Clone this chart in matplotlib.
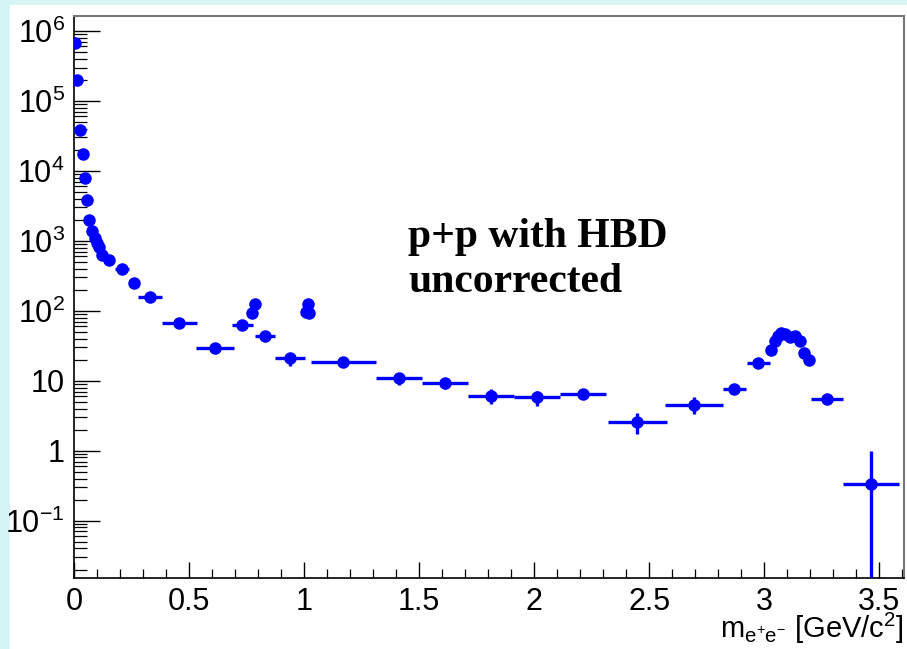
import numpy as np
from matplotlib import pyplot as plt
from matplotlib.patches import Rectangle
from matplotlib.ticker import LogLocator, MultipleLocator, NullFormatter

# dielectron mass spectrum, p+p with HBD
mass = [0.004, 0.014, 0.026, 0.038, 0.048, 0.057, 0.067, 0.080, 0.091, 0.101,
        0.110, 0.120, 0.151, 0.209, 0.261, 0.332, 0.457, 0.613, 0.732, 0.775,
        0.787, 0.830, 0.938, 1.010, 1.020, 1.016, 1.171, 1.413, 1.612, 1.812,
        2.012, 2.212, 2.449, 2.697, 2.871, 2.974, 3.030, 3.048, 3.062, 3.074,
        3.091, 3.113, 3.135, 3.154, 3.174, 3.193, 3.272, 3.465]
counts = [6.7e5, 2.0e5, 3.9e4, 1.74e4, 7.9e3, 3.86e3, 2.0e3, 1.36e3, 1.10e3, 930,
          810, 630, 540, 400, 249, 158, 67, 29.6, 63, 93,
          126, 44, 21, 95, 92, 125, 18.5, 10.8, 9.3, 6.1,
          5.8, 6.5, 2.6, 4.5, 7.7, 17.9, 27.7, 36.5, 43, 48,
          46, 42, 43, 37, 25, 20, 5.5, 0.334]
mass_err = [0.004, 0.005, 0.005, 0.005, 0.005, 0.005, 0.005, 0.005, 0.005, 0.005,
            0.005, 0.005, 0.015, 0.03, 0.02, 0.052, 0.076, 0.082, 0.044, 0.005,
            0.005, 0.044, 0.065, 0.005, 0.005, 0.005, 0.141, 0.10, 0.10, 0.10,
            0.10, 0.10, 0.127, 0.126, 0.051, 0.05, 0.005, 0.005, 0.005, 0.005,
            0.005, 0.005, 0.005, 0.005, 0.005, 0.005, 0.069, 0.122]
err_lo = [0, 0, 0, 0, 0, 0, 0, 0, 0, 0,
          0, 0, 0, 0, 0, 0, 0, 0, 0, 0,
          0, 0, 4.6, 0, 0, 0, 0, 2.2, 1.7, 1.4,
          1.4, 0.5, 0.85, 1.12, 0.3, 0.5, 0, 0, 0, 0,
          0, 0, 0, 0, 0, 0, 0, 0.33]
err_hi = [0, 0, 0, 0, 0, 0, 0, 0, 0, 0,
          0, 0, 0, 0, 0, 0, 0, 0, 0, 0,
          0, 0, 3.9, 0, 0, 0, 0, 2.1, 1.7, 1.5,
          1.4, 0.5, 0.85, 1.35, 0.3, 0.5, 0, 0, 0, 0,
          0, 0, 0, 0, 0, 0, 0, 0.65]

ytick_vals = [0.1, 1, 10, 100, 1e3, 1e4, 1e5, 1e6]
ytick_labels = ['$10^{-1}$', '1', '10', '$10^{2}$', '$10^{3}$', '$10^{4}$', '$10^{5}$', '$10^{6}$']
xtick_vals = [0, 0.5, 1, 1.5, 2, 2.5, 3, 3.5]
xtick_labels = ['0', '0.5', '1', '1.5', '2', '2.5', '3', '3.5']

plt.rcParams['font.family'] = ['Liberation Sans', 'DejaVu Sans']
plt.rcParams['mathtext.fontset'] = 'custom'
plt.rcParams['mathtext.rm'] = 'Liberation Sans'
plt.rcParams['mathtext.it'] = 'Liberation Sans'
plt.rcParams['mathtext.default'] = 'regular'

fig = plt.figure(figsize=(9.07, 6.49), dpi=100, facecolor='#d6f5f5')
fig.patches.append(Rectangle((10/907, 0), 1, 1 - 5/649, transform=fig.transFigure,
                             facecolor='white', edgecolor='none', zorder=-1))

ax = fig.add_axes([74/907, 71/649, 830/907, 562/649])
ax.errorbar(mass, counts, xerr=mass_err, yerr=[err_lo, err_hi], fmt='o', color='blue',
            ms=8, elinewidth=2.4, capsize=0, zorder=3)

ax.set_yscale('log')
ax.set_xlim(0, 3.608)
ax.set_ylim(10**-1.82, 10**6.214)

ax.set_yticks(ytick_vals)
ax.set_yticklabels(ytick_labels)
ax.yaxis.set_minor_locator(LogLocator(base=10, subs=np.arange(2, 10)))
ax.yaxis.set_minor_formatter(NullFormatter())
ax.set_xticks(xtick_vals)
ax.set_xticklabels(xtick_labels)
ax.xaxis.set_minor_locator(MultipleLocator(0.1))

ax.tick_params(axis='both', which='both', direction='in', top=False, right=False,
               labelsize=22, color='black')
ax.tick_params(axis='y', which='major', length=19, width=1, pad=6.5)
ax.tick_params(axis='y', which='minor', length=9.5, width=0.9)
ax.tick_params(axis='x', which='major', length=11.5, width=1, pad=6.5)
ax.tick_params(axis='x', which='minor', length=6.5, width=0.9)

ax.spines['left'].set_linewidth(1.2)
ax.spines['bottom'].set_linewidth(1.2)
ax.spines['top'].set_color('#777777')
ax.spines['right'].set_color('#777777')
ax.spines['top'].set_linewidth(1.5)
ax.spines['right'].set_linewidth(1.5)

fig.text(904/907, 11/649, 'm$_{e^{+}e^{-}}$ [GeV/c$^{2}$]', ha='right', va='baseline',
         fontsize=21)

fig.text(408/907, (649-247)/649, 'p+p with HBD', family='Liberation Serif',
         fontweight='bold', fontsize=30, va='baseline')
fig.text(408/907, (649-292)/649, 'uncorrected', family='Liberation Serif',
         fontweight='bold', fontsize=30, va='baseline')

plt.savefig('out.png', dpi=100, facecolor=fig.get_facecolor())
#plt.show()
